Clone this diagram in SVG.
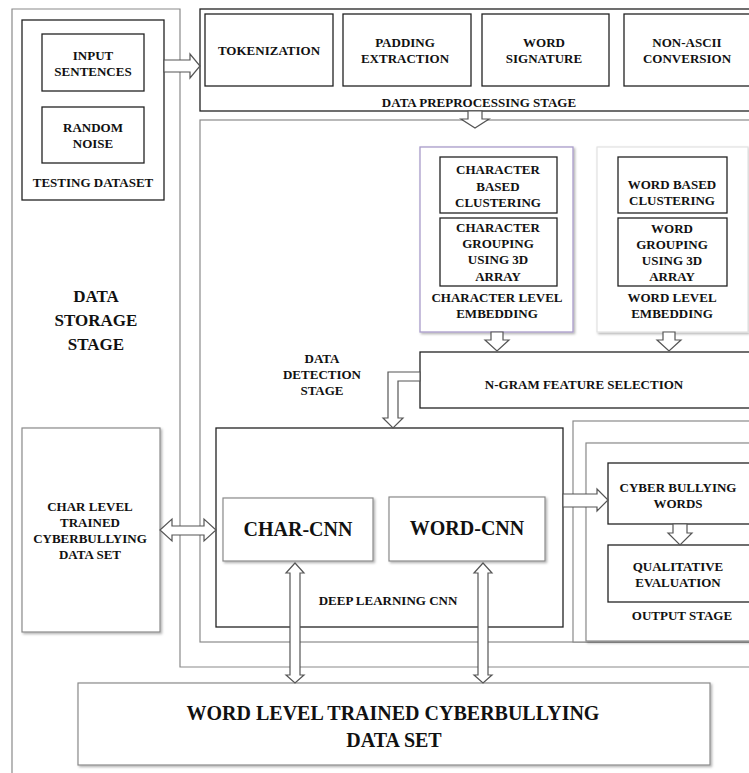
<svg xmlns="http://www.w3.org/2000/svg" width="749" height="773" viewBox="0 0 749 773">
<defs>
<filter id="sh" x="-5%" y="-5%" width="115%" height="115%"><feDropShadow dx="1.5" dy="1.5" stdDeviation="0.8" flood-color="#000" flood-opacity="0.3"/></filter>
</defs>
<style>
.k{fill:#fff;stroke:#222;stroke-width:1.3}
.g{fill:#fff;stroke:#8a8a8a;stroke-width:1.2}
.gs{fill:#fff;stroke:#8a8a8a;stroke-width:1.2;filter:url(#sh)}
.ln{fill:none;stroke:#8a8a8a;stroke-width:1.2}
.t{font-family:"Liberation Serif","Times New Roman",serif;font-weight:bold;font-size:13px;text-anchor:middle;dominant-baseline:central;fill:#111}
.big{font-size:20px}
.st{font-size:17px}
.arr{fill:#fff;stroke:#555;stroke-width:1.2;stroke-linejoin:miter}
</style>
<rect width="749" height="773" fill="#fff"/>

<g id="storage-stage">
<path class="ln" d="M12,773 V9 H180 V667 H760"/>
<text class="t st" x="96" y="296">DATA</text>
<text class="t st" x="96" y="320">STORAGE</text>
<text class="t st" x="96" y="344">STAGE</text>
</g>

<g id="testing-dataset">
<rect class="k" x="22" y="20" width="142" height="180"/>
<text class="t" x="93" y="182">TESTING DATASET</text>
</g>
<g id="input-sentences">
<rect class="k" x="42" y="34" width="102" height="57"/>
<text class="t" x="93" y="55">INPUT</text>
<text class="t" x="93" y="71">SENTENCES</text>
</g>
<g id="random-noise">
<rect class="k" x="42" y="107" width="102" height="56"/>
<text class="t" x="93" y="127">RANDOM</text>
<text class="t" x="93" y="143">NOISE</text>
</g>

<g id="char-level-dataset">
<rect class="gs" x="22" y="428" width="138" height="204"/>
<text class="t" x="90" y="506">CHAR LEVEL</text>
<text class="t" x="90" y="522">TRAINED</text>
<text class="t" x="90" y="538">CYBERBULLYING</text>
<text class="t" x="90" y="554">DATA SET</text>
</g>

<g id="preprocessing-stage">
<rect class="k" x="200" y="9" width="560" height="102"/>
<text class="t" x="479" y="102">DATA PREPROCESSING STAGE</text>
</g>
<g id="tokenization">
<rect class="k" x="205" y="14" width="128" height="72"/>
<text class="t" x="269" y="50">TOKENIZATION</text>
</g>
<g id="padding-extraction">
<rect class="k" x="343" y="14" width="128" height="72"/>
<text class="t" x="405" y="42">PADDING</text>
<text class="t" x="405" y="58">EXTRACTION</text>
</g>
<g id="word-signature">
<rect class="k" x="482" y="14" width="127" height="72"/>
<text class="t" x="544" y="42">WORD</text>
<text class="t" x="544" y="58">SIGNATURE</text>
</g>
<g id="non-ascii">
<rect class="k" x="624" y="14" width="128" height="72"/>
<text class="t" x="687" y="42">NON-ASCII</text>
<text class="t" x="687" y="58">CONVERSION</text>
</g>

<g id="detection-stage">
<rect class="g" x="200" y="120" width="560" height="522"/>
<text class="t" x="322" y="358">DATA</text>
<text class="t" x="322" y="374">DETECTION</text>
<text class="t" x="322" y="390">STAGE</text>
</g>

<g id="char-embedding">
<rect fill="#fff" stroke="#a99cca" stroke-width="1.3" x="420" y="147" width="153" height="185" filter="url(#sh)"/>
<text class="t" x="497" y="297">CHARACTER LEVEL</text>
<text class="t" x="497" y="313">EMBEDDING</text>
</g>
<g id="char-clustering">
<rect class="k" x="440" y="157" width="117" height="56"/>
<text class="t" x="498" y="169">CHARACTER</text>
<text class="t" x="498" y="186">BASED</text>
<text class="t" x="498" y="202">CLUSTERING</text>
</g>
<g id="char-grouping">
<rect class="k" x="440" y="218" width="117" height="68"/>
<text class="t" x="498" y="227">CHARACTER</text>
<text class="t" x="498" y="243">GROUPING</text>
<text class="t" x="498" y="259">USING 3D</text>
<text class="t" x="498" y="276">ARRAY</text>
</g>

<g id="word-embedding">
<rect fill="#fff" stroke="#e2e2e2" stroke-width="1.2" x="597" y="147" width="151" height="185" filter="url(#sh)"/>
<text class="t" x="672" y="297">WORD LEVEL</text>
<text class="t" x="672" y="313">EMBEDDING</text>
</g>
<g id="word-clustering">
<rect class="k" x="618" y="157" width="109" height="56"/>
<text class="t" x="672" y="184">WORD BASED</text>
<text class="t" x="672" y="200">CLUSTERING</text>
</g>
<g id="word-grouping">
<rect class="k" x="618" y="218" width="109" height="68"/>
<text class="t" x="672" y="228">WORD</text>
<text class="t" x="672" y="244">GROUPING</text>
<text class="t" x="672" y="260">USING 3D</text>
<text class="t" x="672" y="276">ARRAY</text>
</g>

<g id="ngram">
<rect class="k" x="420" y="352" width="340" height="56"/>
<text class="t" x="584" y="384">N-GRAM FEATURE SELECTION</text>
</g>

<g id="deep-learning-cnn">
<rect class="k" x="216" y="428" width="347" height="199"/>
<text class="t" x="388" y="600">DEEP LEARNING CNN</text>
</g>
<g id="char-cnn">
<rect class="gs" x="223" y="498" width="150" height="63"/>
<text class="t big" x="298" y="529">CHAR-CNN</text>
</g>
<g id="word-cnn">
<rect class="gs" x="389" y="497" width="156" height="64"/>
<text class="t big" x="467" y="528">WORD-CNN</text>
</g>

<g id="output-container">
<rect class="g" x="573" y="421" width="187" height="221"/>
</g>
<g id="output-stage">
<rect class="gs" x="586" y="443" width="174" height="198"/>
<text class="t" x="682" y="615">OUTPUT STAGE</text>
</g>
<g id="cyber-bullying-words">
<rect class="k" x="608" y="463" width="152" height="61"/>
<text class="t" x="678" y="487">CYBER BULLYING</text>
<text class="t" x="678" y="503">WORDS</text>
</g>
<g id="qualitative-evaluation">
<rect class="k" x="608" y="545" width="152" height="57"/>
<text class="t" x="678" y="566">QUALITATIVE</text>
<text class="t" x="678" y="582">EVALUATION</text>
</g>

<g id="word-level-dataset">
<rect class="gs" x="78" y="683" width="632" height="82"/>
<text class="t big" x="393" y="713">WORD LEVEL TRAINED CYBERBULLYING</text>
<text class="t big" x="394" y="740">DATA SET</text>
</g>

<g id="connectors">
<polygon class="arr" points="164,60 190,60 190,54 200,66 190,78 190,72 164,72"/>
<polygon class="arr" points="468,111 482,111 482,119 489,119 475,128 461,119 468,119"/>
<polygon class="arr" points="491,332 503,332 503,340 509,340 497,351 485,340 491,340"/>
<polygon class="arr" points="663,332 675,332 675,340 681,340 669,351 657,340 663,340"/>
<polygon class="arr" points="420,372 388,372 388,418 383,418 393,428 403,418 398,418 398,381 420,381"/>
<polygon class="arr" points="160,530 172,519 172,526 204,526 204,519 216,530 204,541 204,535 172,535 172,541"/>
<polygon class="arr" points="295,563 304,573 300,573 300,675 304,675 295,683 286,675 290,675 290,573 286,573"/>
<polygon class="arr" points="483,563 492,573 488,573 488,675 492,675 483,683 474,675 478,675 478,573 474,573"/>
<polygon class="arr" points="563,494 597,494 597,489 608,500 597,511 597,507 563,507"/>
<polygon class="arr" points="673,524 687,524 687,533 692,533 680,545 668,533 673,533"/>
</g>
</svg>
